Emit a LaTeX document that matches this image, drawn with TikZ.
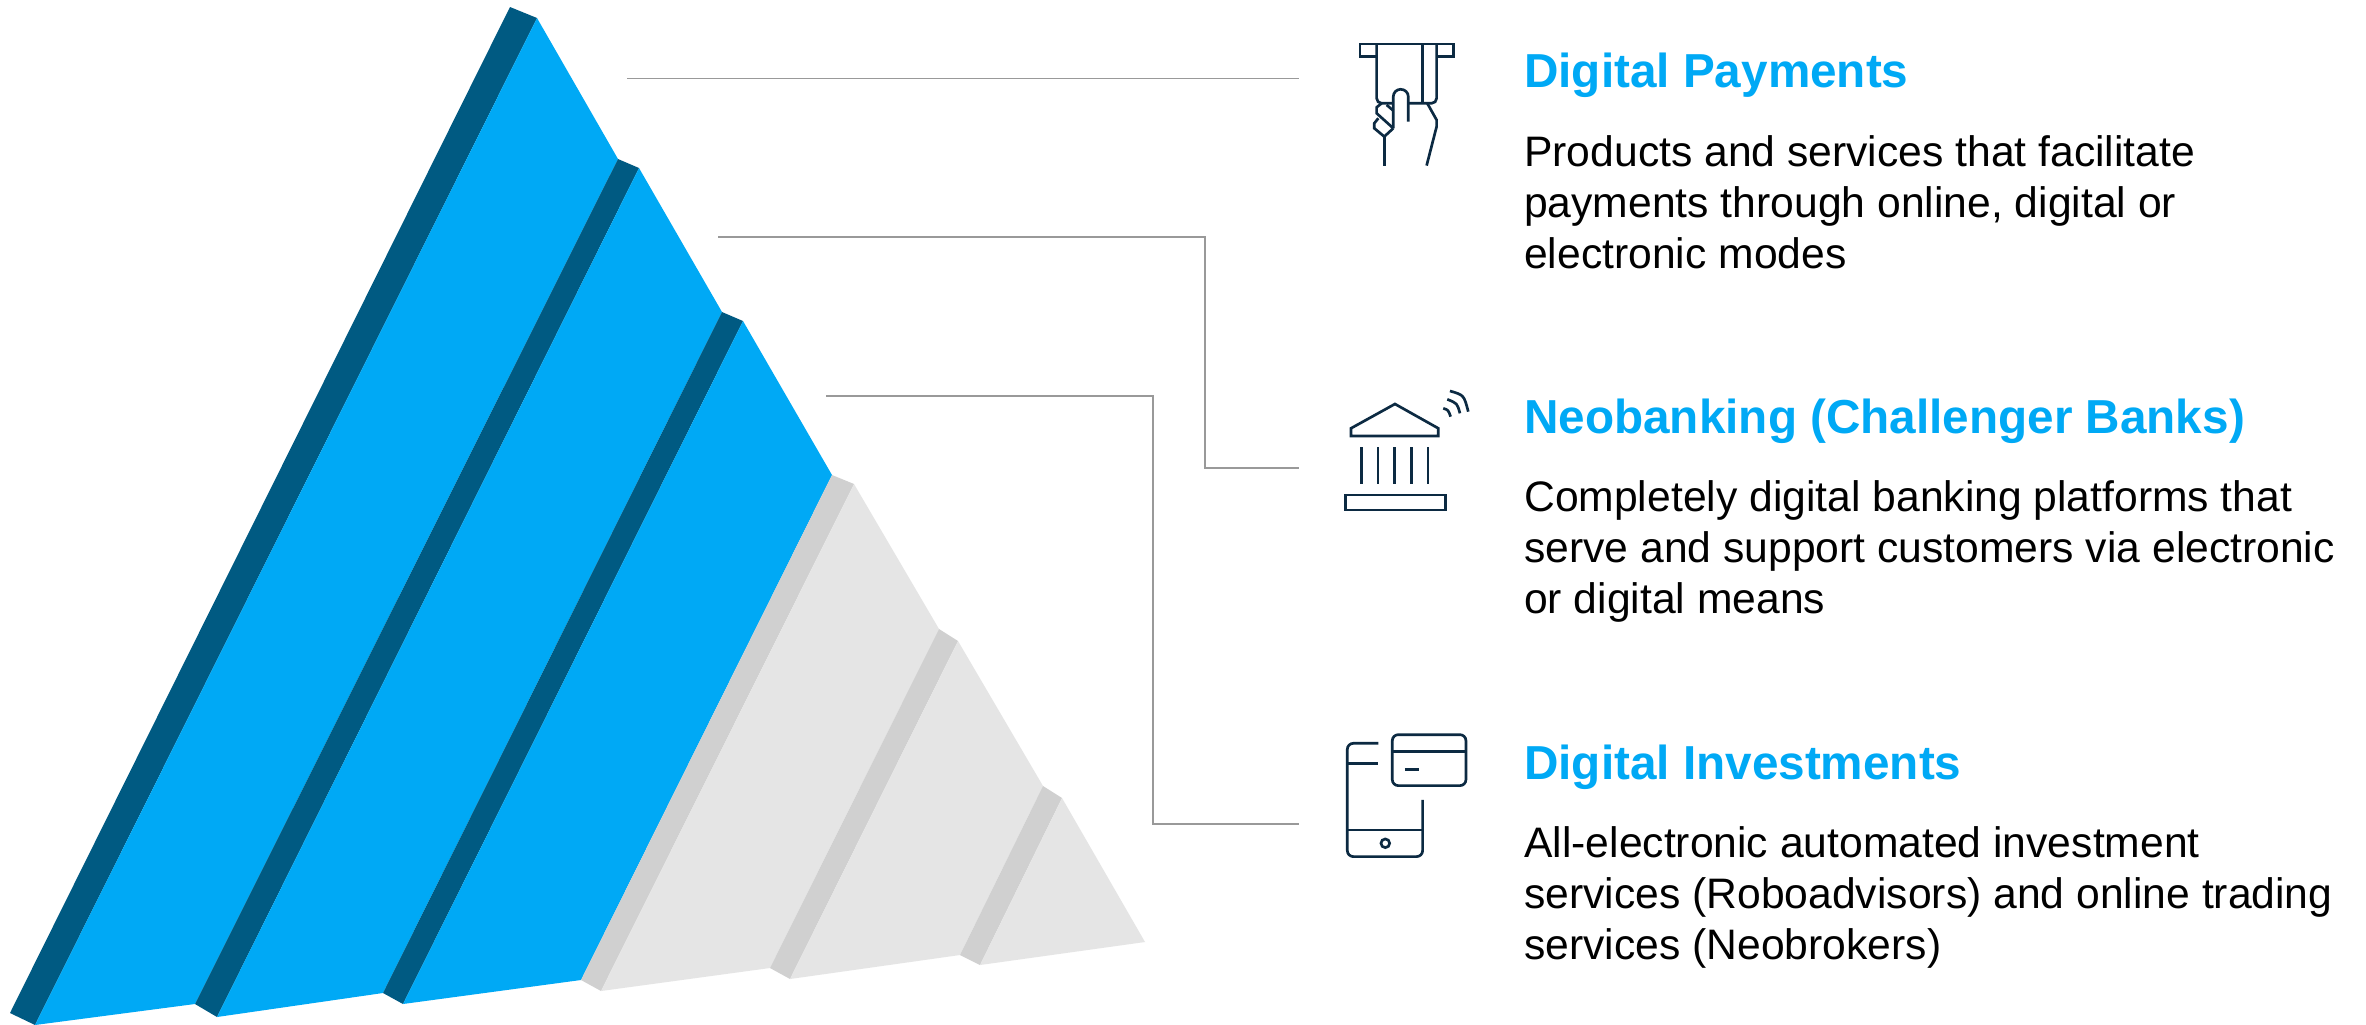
\documentclass[tikz,border=0pt]{standalone}
\usepackage{fontspec}
\setmainfont{Liberation Sans}
\definecolor{sky}{HTML}{00A9F5}
\definecolor{deep}{HTML}{005A82}
\definecolor{pale}{HTML}{E5E5E5}
\definecolor{mid}{HTML}{D0D0D0}
\definecolor{ink}{HTML}{0C2A42}
\definecolor{rule}{HTML}{999999}
\tikzset{
  face/.style={fill=sky,draw=none},
  side/.style={fill=deep,draw=none},
  gface/.style={fill=pale,draw=none},
  gside/.style={fill=mid,draw=none},
  leader/.style={draw=rule,line width=0.04cm},
  ico/.style={draw=ink,line width=0.08cm,line join=miter},
  heading/.style={anchor=base west,inner sep=0pt,text=sky,font=\fontsize{40.7pt}{46pt}\selectfont\bfseries},
  para/.style={anchor=base west,inner sep=0pt,text=black,font=\fontsize{36.4pt}{43pt}\selectfont}
}
\begin{document}
\begin{tikzpicture}[x=0.03cm,y=-0.03cm]
\useasboundingbox (0,0) rectangle (2366,1024);
\fill[white] (0,0) rectangle (2366,1024);
% sides and faces
\fill[side] (510,7) -- (537,18) -- (35,1025) -- (10,1013) -- cycle;
\fill[face] (537,18) -- (618,159) -- (195,1004) -- (35,1025) -- cycle;
\fill[side] (618,159) -- (639,168) -- (217,1017) -- (195,1004) -- cycle;
\fill[face] (639,168) -- (722,312) -- (383,993) -- (217,1017) -- cycle;
\fill[side] (722,312) -- (743,321) -- (403,1004) -- (383,993) -- cycle;
\fill[face] (743,321) -- (832,475) -- (581,980) -- (403,1004) -- cycle;
\fill[gside] (832,475) -- (854,484) -- (601,991) -- (581,980) -- cycle;
\fill[gface] (854,484) -- (939,629) -- (770,968) -- (601,991) -- cycle;
\fill[gside] (939,629) -- (958,641) -- (790,979) -- (770,968) -- cycle;
\fill[gface] (958,641) -- (1043,786) -- (960,955) -- (790,979) -- cycle;
\fill[gside] (1043,786) -- (1062,798) -- (980,965) -- (960,955) -- cycle;
\fill[gface] (1062,798) -- (1145,942) -- (980,965) -- cycle;
% leaders
\coordinate (a1) at (627,78.5); \coordinate (a2) at (1299,78.5);
\coordinate (b1) at (718,237); \coordinate (b2) at (1205,237); \coordinate (b3) at (1205,468); \coordinate (b4) at (1299,468);
\coordinate (c1) at (826,396); \coordinate (c2) at (1153,396); \coordinate (c3) at (1153,824); \coordinate (c4) at (1299,824);
\draw[leader] (a1) -- (a2);
\draw[leader] (b1) -- (b2) -- (b3) -- (b4);
\draw[leader] (c1) -- (c2) -- (c3) -- (c4);
% icon 1
\begin{scope}[shift={(1320,20)},x=0.01cm,y=-0.01cm]
\draw[ico] (170,110) -- (120,110) -- (120,72) -- (400,72) -- (400,110) -- (350,110);
\draw[ico] (170,72) -- (170,235) to[out=-90,in=180] (185,250) -- (220,250);
\draw[ico] (265,250) -- (335,250) to[out=0,in=-90] (350,235) -- (350,72);
\draw[ico] (307,72) -- (307,250);
\draw[ico] (220,325) -- (220,230) to[out=90,in=180] (242,208) to[out=0,in=90] (265,230) -- (265,305);
\draw[ico] (185,250) -- (170,262) -- (170,280) -- (220,325);
\draw[ico] (200,255) -- (220,272);
\draw[ico] (175,295) -- (163,310) -- (163,325) -- (193,350) -- (220,325);
\draw[ico] (193,350) -- (193,437);
\draw[ico] (322,250) -- (350,300) -- (350,320) -- (320,437);
\end{scope}
% icon 2
\begin{scope}[shift={(1320,370)},x=0.01cm,y=-0.01cm]
\draw[ico] (225,102) -- (355,175) -- (355,198) -- (93,198) -- (93,175) -- cycle;
\foreach \cx in {124,174,224,274,324} \draw[ico] (\cx,232) -- (\cx,342);
\draw[ico] (76,375) rectangle (376,420);
\draw[ico] (370,115) .. controls (385,120) .. (392,140);
\draw[ico] (382,88) .. controls (412,100) .. (420,130);
\draw[ico] (390,63) .. controls (432,75) .. (445,125);
\end{scope}
% icon 3
\begin{scope}[shift={(1320,720)},x=0.01cm,y=-0.01cm]
\draw[ico] (175,70) -- (100,70) to[out=180,in=90] (82,88) -- (82,392) to[out=-90,in=180] (100,410) -- (290,410) to[out=0,in=-90] (308,392) -- (308,240);
\draw[ico] (82,130) -- (175,130);
\draw[ico] (82,330) -- (308,330);
\draw[ico] (196,370) circle[radius=13];
\draw[ico,rounded corners=0.18cm] (217,44) rectangle (438,197);
\draw[ico] (217,94) -- (438,94);
\draw[ico] (255,148) -- (297,148);
\end{scope}
% text
\node[heading] (h1) at (1524,87.5) {Digital Payments};
\node[para] (p1l1) at (1524,166) {Products and services that facilitate};
\node[para] (p1l2) at (1524,217) {payments through online, digital or};
\node[para] (p1l3) at (1524,268) {electronic modes};
\node[heading] (h2) at (1524,433) {Neobanking (Challenger Banks)};
\node[para] (p2l1) at (1524,511) {Completely digital banking platforms that};
\node[para] (p2l2) at (1524,562) {serve and support customers via electronic};
\node[para] (p2l3) at (1524,613) {or digital means};
\node[heading] (h3) at (1524,779) {Digital Investments};
\node[para] (p3l1) at (1524,857) {All-electronic automated investment};
\node[para] (p3l2) at (1524,908) {services (Roboadvisors) and online trading};
\node[para] (p3l3) at (1524,959) {services (Neobrokers)};
\end{tikzpicture}
\end{document}
